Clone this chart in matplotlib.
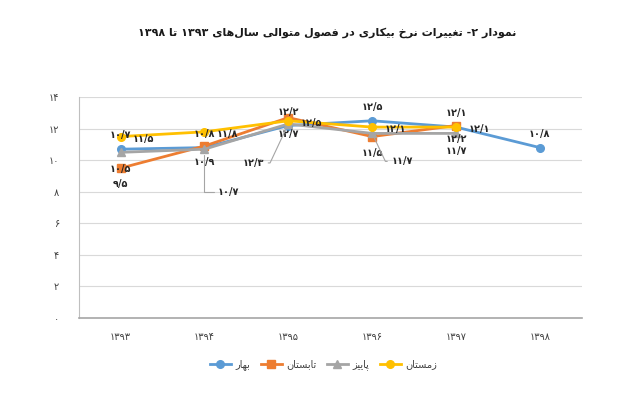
import re
import matplotlib
matplotlib.use('Agg')
import matplotlib.pyplot as plt

# --- data ---
years = ['۱۳۹۳', '۱۳۹۴', '۱۳۹۵', '۱۳۹۶', '۱۳۹۷', '۱۳۹۸']
spring = [10.7, 10.8, 12.2, 12.5, 12.1, 10.8]   # بهار
summer = [9.5, 10.9, 12.7, 11.5, 12.2]          # تابستان
autumn = [10.5, 10.7, 12.3, 11.7, 11.7]         # پاییز
winter = [11.5, 11.8, 12.5, 12.1, 12.1]         # زمستان
season_names = ['بهار', 'تابستان', 'پاییز', 'زمستان']
y_ticks = [0, 2, 4, 6, 8, 10, 12, 14]
title = 'نمودار ۲- تغییرات نرخ بیکاری در فصول متوالی سال‌های ۱۳۹۳ تا ۱۳۹۸'

# contextual forms: isolated, final, initial, medial
FORMS = {
    'ا': (0xFE8D, 0xFE8E, None, None),
    'ب': (0xFE8F, 0xFE90, 0xFE91, 0xFE92),
    'پ': (0xFB56, 0xFB57, 0xFB58, 0xFB59),
    'ت': (0xFE95, 0xFE96, 0xFE97, 0xFE98),
    'خ': (0xFEA5, 0xFEA6, 0xFEA7, 0xFEA8),
    'د': (0xFEA9, 0xFEAA, None, None),
    'ر': (0xFEAD, 0xFEAE, None, None),
    'ز': (0xFEAF, 0xFEB0, None, None),
    'س': (0xFEB1, 0xFEB2, 0xFEB3, 0xFEB4),
    'ص': (0xFEB9, 0xFEBA, 0xFEBB, 0xFEBC),
    'غ': (0xFECD, 0xFECE, 0xFECF, 0xFED0),
    'ف': (0xFED1, 0xFED2, 0xFED3, 0xFED4),
    'ک': (0xFB8E, 0xFB8F, 0xFB90, 0xFB91),
    'ل': (0xFEDD, 0xFEDE, 0xFEDF, 0xFEE0),
    'م': (0xFEE1, 0xFEE2, 0xFEE3, 0xFEE4),
    'ن': (0xFEE5, 0xFEE6, 0xFEE7, 0xFEE8),
    'ه': (0xFEE9, 0xFEEA, 0xFEEB, 0xFEEC),
    'و': (0xFEED, 0xFEEE, None, None),
    'ی': (0xFBFC, 0xFBFD, 0xFBFE, 0xFBFF),
}


def shape(text):
    """Join Persian letters and lay them out right to left (no bidi lib here)."""
    def joins_next(c):
        return c in FORMS and FORMS[c][2] is not None

    out = []
    for i, c in enumerate(text):
        if c not in FORMS:
            if c != '\u200c':
                out.append(c)
            continue
        prev = text[i - 1] if i > 0 else ''
        nxt = text[i + 1] if i + 1 < len(text) else ''
        p = joins_next(prev)
        n = joins_next(c) and nxt in FORMS
        iso, fin, ini, med = FORMS[c]
        if p and n:
            g = med
        elif p:
            g = fin
        elif n:
            g = ini
        else:
            g = iso
        out.append(chr(g))
    s = ''.join(out)[::-1]
    # digits keep left-to-right order
    return re.sub('[۰-۹]+', lambda m: m.group(0)[::-1], s)


FA = str.maketrans('0123456789.', '۰۱۲۳۴۵۶۷۸۹/')


def fa(v, fmt='{:.1f}'):
    return fmt.format(v).translate(FA)


plt.rcParams['font.family'] = ['DejaVu Sans']

fig = plt.figure(figsize=(6.4, 3.98), dpi=100)
ax = fig.add_axes([0.123, 0.201, 0.786, 0.555])

series = [spring, summer, autumn, winter]
colors = ['#5B9BD5', '#ED7D31', '#A5A5A5', '#FFC000']
markers = ['o', 's', '^', 'o']

# label offsets in pixels from each point
offsets = [
    [(0, 14)] * 6,
    [(0, -16), (0, -16), (0, -16), (0, -16), (0, -13)],
    [(0, -17), (24, -43), (-35, -39), (30, -28), (0, -18)],
    [(23, -2)] * 5,
]
leaders = {
    1: 'angle,angleA=0,angleB=90,rad=0',
    2: 'arc,angleA=0,armA=6,angleB=0,armB=0,rad=0',
    3: 'arc,angleA=180,armA=6,angleB=0,armB=0,rad=0',
}

lines = []
for k, (vals, col, mk) in enumerate(zip(series, colors, markers)):
    x = list(range(len(vals)))
    ln, = ax.plot(x, vals, color=col, lw=2, marker=mk, ms=5.5,
                  zorder=3 + k, label=shape(season_names[k]))
    lines.append(ln)
    for i, v in enumerate(vals):
        dx, dy = offsets[k][i]
        kw = {}
        if k == 2 and i in leaders:
            kw['arrowprops'] = dict(arrowstyle='-', color='#A5A5A5', lw=0.8,
                                    connectionstyle=leaders[i],
                                    relpos=(0, 0.5) if dx > 0 else (1, 0.5),
                                    shrinkA=1, shrinkB=4)
        ax.annotate(fa(v), (i, v), xytext=(dx, dy), textcoords='offset pixels',
                    ha='center', va='center', fontsize=7, fontweight='bold',
                    color='#262626', zorder=10, **kw)

ax.set_xlim(-0.5, len(years) - 0.5)
ax.set_ylim(0, 14)
ax.set_xticks(range(len(years)))
ax.set_xticklabels(years)
ax.set_yticks(y_ticks)
ax.set_yticklabels([fa(t, '{:d}') for t in y_ticks])
ax.tick_params(length=0, labelsize=7, colors='#404040', pad=10)
ax.tick_params(axis='y', pad=14)
ax.grid(axis='y', color='#D9D9D9', lw=0.8)
ax.set_axisbelow(True)
for s in ['top', 'right']:
    ax.spines[s].set_visible(False)
ax.spines['left'].set_color('#BFBFBF')
ax.spines['bottom'].set_color('#A6A6A6')
ax.spines['bottom'].set_linewidth(1.2)

fig.text(0.511, 0.917, shape(title), ha='center', va='center',
         fontsize=8, fontweight='bold', color='#1a1a1a')

fig.legend(handles=lines, loc='center', bbox_to_anchor=(0.505, 0.083), ncol=4,
           frameon=False, fontsize=7, handlelength=2.2, handletextpad=0.4,
           columnspacing=1.1, labelcolor='#404040')

fig.savefig('out.png', dpi=100)
